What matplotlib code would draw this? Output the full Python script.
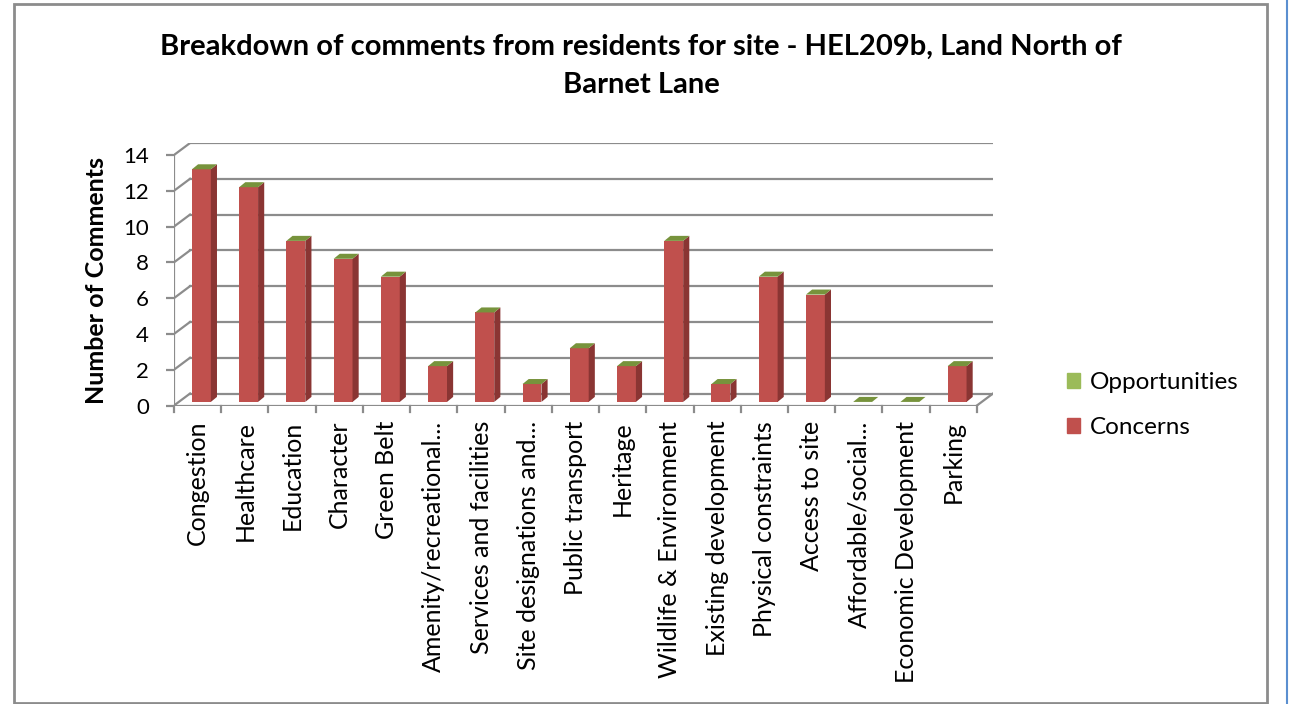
import matplotlib.pyplot as plt
from matplotlib.patches import Polygon, Patch, Rectangle
from matplotlib.lines import Line2D

plt.rcParams['font.family'] = ['Lato', 'DejaVu Sans']

# chart data
categories = ['Congestion', 'Healthcare', 'Education', 'Character', 'Green Belt',
              'Amenity/recreational...', 'Services and facilities',
              'Site designations and...', 'Public transport', 'Heritage',
              'Wildlife & Environment', 'Existing development',
              'Physical constraints', 'Access to site', 'Affordable/social...',
              'Economic Development', 'Parking']
concerns = [13, 12, 9, 8, 7, 2, 5, 1, 3, 2, 9, 1, 7, 6, 0, 0, 2]
opportunities = [0, 0, 0, 0, 0, 0, 0, 0, 0, 0, 0, 0, 0, 0, 0, 0, 0]
y_ticks = [0, 2, 4, 6, 8, 10, 12, 14]

red = '#C0504D'
red_side = '#8A3533'
green = '#9BBB59'
green_top = '#77933C'
grid_col = '#8C8C8C'

W, H = 1293, 704
fig = plt.figure(figsize=(W / 100, H / 100), dpi=100)

# fake 3d geometry, in data units
depth_x, depth_y = 0.34, 0.67
bar_w = 0.40
bar_dx = 0.08
bar_base = 0.2
side_x, side_y = 0.13, 0.28

n = len(categories)
ax = fig.add_axes([174 / W, 1 - 405.5 / H, (993 - 174) / W, 262.5 / H])
ax.set_xlim(0, n + depth_x)
ax.set_ylim(0, y_ticks[-1] + depth_y)
for s in ax.spines.values():
    s.set_visible(False)

# back wall gridlines + left wall diagonals
for v in y_ticks:
    ax.plot([depth_x, n + depth_x], [v + depth_y, v + depth_y], color=grid_col, lw=1.6, zorder=1)
    ax.plot([0, depth_x], [v, v + depth_y], color=grid_col, lw=1.6, zorder=1)
# floor front edge and right edge
ax.plot([0, n], [0, 0], color=grid_col, lw=1.6, zorder=1)
ax.plot([n, n + depth_x], [0, depth_y], color=grid_col, lw=1.6, zorder=1)
# front vertical axis
ax.plot([0, 0], [0, y_ticks[-1]], color=grid_col, lw=1.6, zorder=1)
# category tick marks under the floor
for i in range(n + 1):
    ax.plot([i, i], [0, -0.35], color=grid_col, lw=1.6, clip_on=False, zorder=1)

# bars
x_front = [i + 0.5 + bar_dx for i in range(n)]
ax.bar(x_front, concerns, width=bar_w, bottom=bar_base, color=red, zorder=3)
ax.bar(x_front, opportunities, width=bar_w, bottom=[bar_base + c for c in concerns],
       color=green, zorder=3)
for xc, c, o in zip(x_front, concerns, opportunities):
    xl, xr = xc - bar_w / 2, xc + bar_w / 2
    b = bar_base
    t = bar_base + c + o
    if c > 0:
        ax.add_patch(Polygon([(xr, b), (xr + side_x, b + side_y), (xr + side_x, b + c + side_y),
                              (xr, b + c)], closed=True, color=red_side, zorder=3, lw=0))
    ax.add_patch(Polygon([(xl, t), (xl + side_x, t + side_y), (xr + side_x, t + side_y), (xr, t)],
                         closed=True, color=green_top, zorder=3, lw=0))

ax.set_yticks(y_ticks)
ax.tick_params(axis='y', length=6, width=1.6, color=grid_col, pad=12, labelsize=16)
ax.set_xticks([i + 0.5 for i in range(n)])
ax.set_xticklabels(categories, rotation=90, fontsize=18)
ax.tick_params(axis='x', length=0, pad=11)

fig.text(96 / W, 1 - 280 / H, 'Number of Comments', rotation=90, ha='center', va='center',
         fontsize=18, fontweight='bold')

fig.text(641 / W, 1 - 47 / H, 'Breakdown of comments from residents for site - HEL209b, Land North of',
         ha='center', va='center', fontsize=21, fontweight='bold')
fig.text(641 / W, 1 - 85 / H, 'Barnet Lane', ha='center', va='center', fontsize=21, fontweight='bold')

handles = [Patch(color=green), Patch(color=red)]
fig.legend(handles, ['Opportunities', 'Concerns'], loc='center left',
           bbox_to_anchor=(1045 / W, 1 - 405 / H), frameon=False, fontsize=17.5,
           handlelength=0.55, handleheight=0.55, handletextpad=0.4, labelspacing=1.0)

# chart border and blue page edge
fig.add_artist(Rectangle((14 / W, 1 - 703 / H), (1267 - 14) / W, (703 - 4) / H,
                         transform=fig.transFigure, fill=False, ec='#8C8C8C', lw=2))
fig.add_artist(Line2D([1287 / W, 1287 / W], [0, 1], transform=fig.transFigure,
                      color='#5B8FD0', lw=1.5))

fig.savefig('out.png', dpi=100)
